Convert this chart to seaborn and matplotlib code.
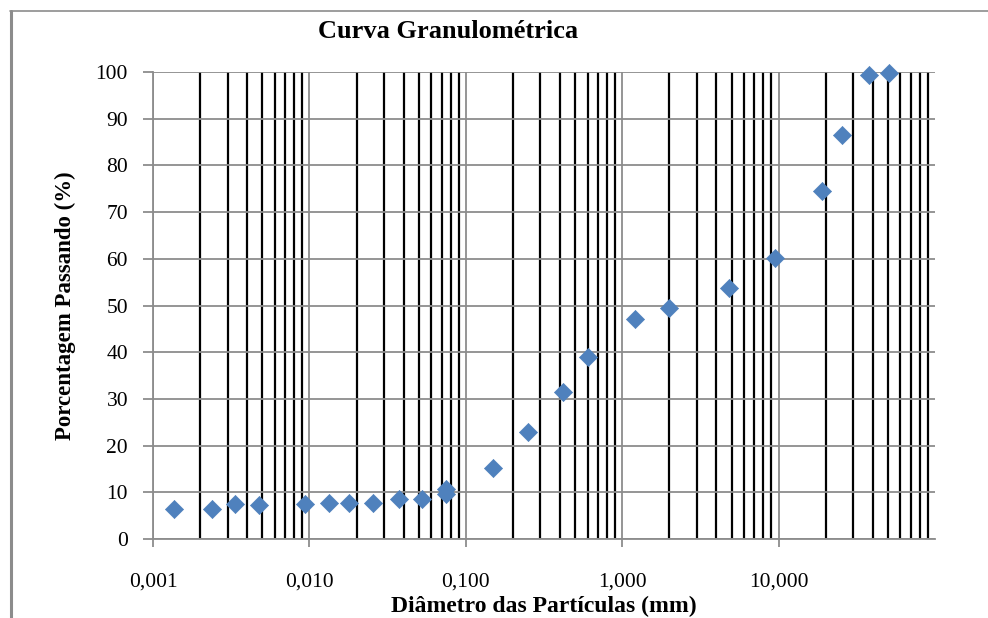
import numpy as np
import pandas as pd
import seaborn as sns
import matplotlib.pyplot as plt
from matplotlib.ticker import LogLocator, FixedLocator, NullFormatter
from matplotlib.lines import Line2D

# dados
diametro = [0.00136, 0.00238, 0.00334, 0.00476, 0.0094, 0.0133, 0.0179, 0.0255,
            0.0373, 0.0523, 0.075, 0.075, 0.15, 0.25, 0.42, 0.60, 1.2, 2.0,
            4.8, 9.5, 19.0, 25.4, 38.0, 50.8]
passando = [6.4, 6.4, 7.4, 7.3, 7.4, 7.8, 7.8, 7.8,
            8.6, 8.6, 10.8, 9.6, 15.3, 22.9, 31.5, 39.0, 47.2, 49.5,
            53.8, 60.1, 74.6, 86.5, 99.4, 99.8]
xticks = [0.001, 0.01, 0.1, 1, 10]
xtick_labels = ["0,001", "0,010", "0,100", "1,000", "10,000"]
yticks = list(range(0, 101, 10))

df = pd.DataFrame({"d": diametro, "p": passando})

sns.set_theme(style="white")
plt.rcParams['font.family'] = ['Liberation Serif', 'DejaVu Serif']
plt.rcParams['text.color'] = 'black'

fig = plt.figure(figsize=(9.88, 6.18), dpi=100)
ax = fig.add_axes([0.1549, 0.1278, 0.7915, 0.7557])

ax.set_xscale("log")
ax.set_xlim(0.001, 100)
ax.set_ylim(0, 100)

ax.xaxis.set_major_locator(FixedLocator(xticks))
ax.set_xticklabels(xtick_labels)
ax.xaxis.set_minor_locator(LogLocator(base=10, subs=np.arange(2, 10), numticks=20))
ax.xaxis.set_minor_formatter(NullFormatter())
ax.set_yticks(yticks)

ax.grid(which="minor", axis="x", color="black", lw=1.6)
ax.grid(which="major", axis="x", color="#8c8c8c", lw=1.3)
ax.grid(which="major", axis="y", color="#8c8c8c", lw=1.3)
ax.set_axisbelow(True)

sns.scatterplot(data=df, x="d", y="p", marker="D", s=85, color="#4f81bd",
                edgecolor="#4f81bd", linewidth=0.5, ax=ax, zorder=5, clip_on=False)

for s in ["top", "right"]:
    ax.spines[s].set_visible(False)
for s in ["left", "bottom"]:
    ax.spines[s].set_color("#8c8c8c")
    ax.spines[s].set_linewidth(1.3)

ax.tick_params(axis="x", which="major", direction="out", length=6, width=1.3,
               color="#8c8c8c", labelcolor="black", labelsize=15.5, pad=18, bottom=True)
ax.tick_params(axis="x", which="minor", length=0)
ax.tick_params(axis="y", direction="out", length=7, width=1.3, color="#8c8c8c",
               labelcolor="black", labelsize=15.5, pad=11, left=True)

ax.set_xlabel("Diâmetro das Partículas (mm)", fontsize=17, fontweight="bold",
              labelpad=3, color="black")
ax.set_ylabel("Porcentagem Passando (%)", fontsize=16.5, fontweight="bold",
              labelpad=14, color="black")
fig.text(0.453, 0.949, "Curva Granulométrica", ha="center", va="center",
         fontsize=19, fontweight="bold", color="black")

# moldura do gráfico
fig.add_artist(Line2D([0.0112, 0.0112], [0.982, -0.1], color="#8c8c8c", lw=2.2,
                      transform=fig.transFigure))
fig.add_artist(Line2D([0.0101, 1.1], [0.982, 0.982], color="#8c8c8c", lw=1.2,
                      transform=fig.transFigure))

fig.savefig("out.png", dpi=100)
